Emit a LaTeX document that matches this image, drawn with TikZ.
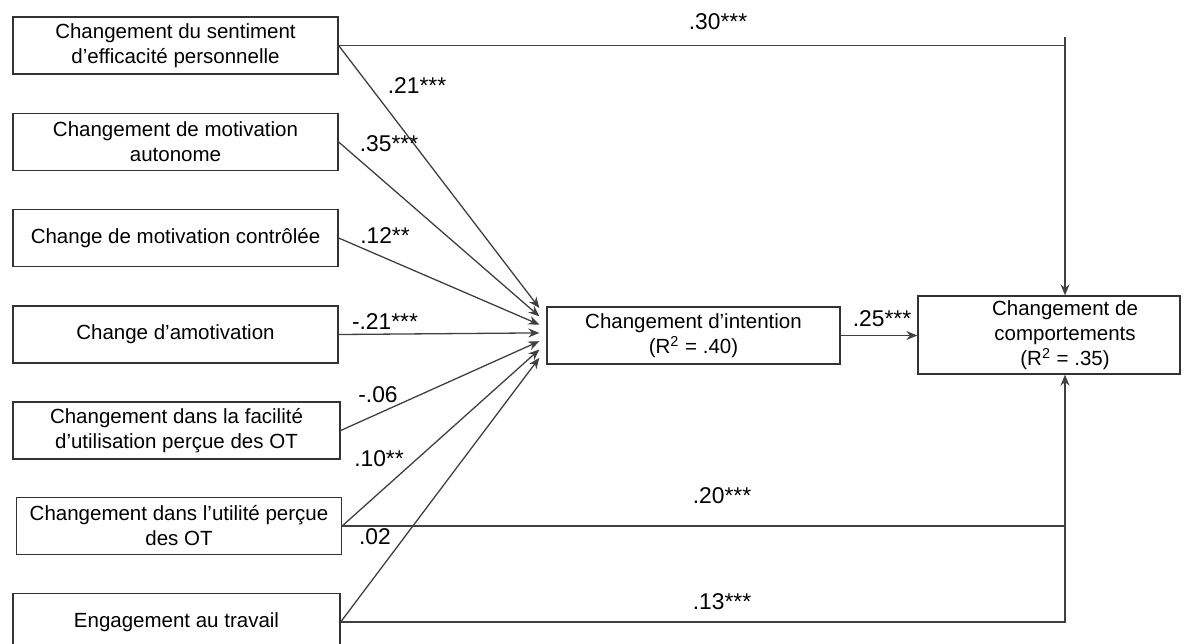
\documentclass[tikz,border=0pt]{standalone}
\usepackage{fontspec}
\setmainfont{Liberation Sans}
\usetikzlibrary{arrows.meta}

\begin{document}
\begin{tikzpicture}[x=0.5pt, y=-0.5pt,
    font=\fontsize{10.25}{12.5}\selectfont,
    box/.style={draw=black!80, line width=0.65pt, minimum width=162.5pt, minimum height=28.5pt, align=center, inner sep=0pt},
    coef/.style={inner sep=0pt, font=\fontsize{11.4}{13}\selectfont},
    link/.style={draw=black!75, line width=0.65pt},
    path arrow/.style={-{Stealth[length=5.5pt, width=4.5pt]}}]
  \useasboundingbox (0,0) rectangle (1197,643);

  \node[box] (eff) at (175.5,45.5) {Changement du sentiment\\d’efficacité personnelle};
  \node[box] (auto) at (175.5,142) {Changement de motivation\\autonome};
  \node[box] (ctrl) at (175.5,238) {Change de motivation contrôlée};
  \node[box] (amot) at (175.5,334.5) {Change d’amotivation};
  \node[box, minimum width=163.5pt] (fac) at (176.5,430.5) {Changement dans la facilité\\d’utilisation perçue des OT};
  \node[box] (util) at (179,526) {Changement dans l’utilité perçue\\des OT};
  \node[box, minimum width=163.5pt] (eng) at (176.5,622) {Engagement au travail};

  \node[box, minimum width=146.5pt] (int) at (693.5,335.5) {Changement d’intention\\(R\textsuperscript{2} = .40)};
  \node[box, minimum width=131pt, minimum height=39pt] (beh) at (1049,335) {};
  \node[inner sep=0pt, align=center] (behtxt) at (1065,335) {Changement de\\comportements\\(R\textsuperscript{2} = .35)};

  \coordinate (toptick) at (1065,37);
  \coordinate (engturn) at (1065,622);

  \foreach \src [count=\k from 0] in {eff,auto,ctrl,amot,fac,util,eng}
    \draw[link, path arrow] (\src.east) -- ([xshift=-3.5pt, yshift={(13.75-4.15*\k)*1pt}]int.west);

  \draw[link] (eff.east) -- (eff.east -| toptick);
  \draw[link, path arrow] (toptick) -- (toptick |- beh.north);
  \draw[link, path arrow] (int.east) -- (int.east -| beh.west);
  \draw[link] (util.east) -- (util.east -| engturn);
  \draw[link, path arrow] (eng.east) -- (engturn) -- (engturn |- beh.south);

  \node[coef] (c30) at (718,22) {.30***};
  \node[coef] (c21) at (417,86) {.21***};
  \node[coef] (c35) at (389,144) {.35***};
  \node[coef] (c12) at (385,236) {.12**};
  \node[coef] (cm21) at (385,322) {-.21***};
  \node[coef] (cm06) at (378,395) {-.06};
  \node[coef] (c10) at (379,459) {.10**};
  \node[coef] (c02) at (375,537) {.02};
  \node[coef] (c25) at (882,319) {.25***};
  \node[coef] (c20) at (722,496) {.20***};
  \node[coef] (c13) at (722,602) {.13***};
\end{tikzpicture}
\end{document}
